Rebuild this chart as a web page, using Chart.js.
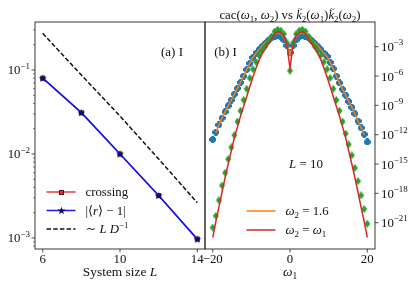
<!DOCTYPE html>
<html>
<head>
<meta charset="utf-8">
<script src="https://cdn.jsdelivr.net/npm/chart.js@4"></script>
<style>
  html, body { margin: 0; padding: 0; background: #fff; }
  #wrap { position: relative; width: 415px; height: 285px; }
  canvas { position: absolute; left: 0; top: 0; }
</style>
</head>
<body>
<div id="wrap">
  <canvas id="left" width="415" height="285"></canvas>
  <canvas id="right" width="415" height="285"></canvas>
</div>
<script>
// panel (a): finite size scaling
const sizes = [6, 8, 10, 12, 14];
const crossing = [0.080, 0.031, 0.0100, 0.0032, 0.00097];
const rGap = [0.080, 0.031, 0.0100, 0.0032, 0.00097];
const guide = [0.273, 0.087, 0.0283, 0.0087, 0.00263];
const sizeTicks = [6, 10, 14];
const gapTicks = [1e-3, 1e-2, 1e-1];

// panel (b): L = 10
const omega = [-20, -19.2, -18.4, -17.6, -16.8, -16, -15.2, -14.4, -13.6, -12.8, -12, -11.2, -10.4,
  -9.6, -8.8, -8, -7.2, -6.4, -5.6, -4.8, -4, -3.2, -2.4, -1.6, -0.8, 0, 0.8, 1.6, 2.4, 3.2, 4, 4.8,
  5.6, 6.4, 7.2, 8, 8.8, 9.6, 10.4, 11.2, 12, 12.8, 13.6, 14.4, 15.2, 16, 16.8, 17.6, 18.4, 19.2, 20];
const cacFixed = [3.2e-13, 1.8e-12, 1.0e-11, 5.0e-11, 2.2e-10, 8.9e-10, 3.5e-9, 1.4e-8, 5.6e-8, 2.2e-7,
  1.0e-6, 4.5e-6, 2.0e-5, 7.9e-5, 2.2e-4, 5.0e-4, 1.1e-3, 2.2e-3, 4.5e-3, 7.9e-3, 1.0e-2, 1.3e-2,
  1.0e-2, 5.0e-3, 1.3e-3, 2.5e-4, 1.3e-3, 5.0e-3, 1.0e-2, 1.3e-2, 1.0e-2, 7.9e-3, 4.5e-3, 2.2e-3,
  1.1e-3, 5.0e-4, 2.2e-4, 1.0e-4, 2.5e-5, 5.6e-6, 1.0e-6, 2.0e-7, 4.5e-8, 1.1e-8, 2.5e-9, 6.3e-10,
  1.4e-10, 2.5e-11, 5.0e-12, 1.1e-12, 1.8e-13];
const prodFixed = [null, 1.6e-12, 1.0e-11, 5.0e-11, 2.2e-10, 8.9e-10, 3.5e-9, 1.4e-8, 5.6e-8, 2.2e-7,
  1.0e-6, 4.5e-6, 2.0e-5, 7.9e-5, 2.2e-4, 5.0e-4, 1.3e-3, 2.8e-3, 5.6e-3, 1.1e-2, 1.8e-2, 2.5e-2,
  2.0e-2, 8.9e-3, 1.8e-3, 1.6e-4, 1.8e-3, 8.9e-3, 2.0e-2, 2.5e-2, 1.8e-2, 1.1e-2, 5.6e-3, 2.8e-3,
  1.3e-3, 5.0e-4, 2.2e-4, 1.0e-4, 2.5e-5, 5.6e-6, 1.0e-6, 2.0e-7, 4.5e-8, 1.1e-8, 2.5e-9, 6.3e-10,
  1.4e-10, 2.5e-11, 5.0e-12, 1.0e-12, null];
const cacDiag = [3.2e-22, 5.0e-21, 2.0e-19, 6.3e-18, 1.3e-16, 3.2e-15, 5.0e-14, 8.9e-13, 2.2e-11, 2.8e-10,
  3.5e-9, 5.0e-8, 6.3e-7, 5.0e-6, 2.8e-5, 1.3e-4, 4.0e-4, 1.1e-3, 3.5e-3, 1.1e-2, 3.5e-2, 5.6e-2,
  4.5e-2, 2.0e-2, 2.5e-3, 3.5e-6, 2.5e-3, 2.0e-2, 4.5e-2, 5.6e-2, 3.5e-2, 1.1e-2, 3.5e-3, 1.1e-3,
  4.0e-4, 1.3e-4, 2.8e-5, 5.0e-6, 6.3e-7, 5.0e-8, 3.5e-9, 2.8e-10, 2.2e-11, 1.3e-12, 1.0e-13, 7.9e-15,
  4.0e-16, 1.8e-17, 6.3e-19, 2.5e-20, 7.9e-22];
const prodDiag = [3.2e-23, 1.3e-21, 4.0e-20, 1.3e-18, 4.0e-17, 1.0e-15, 2.2e-14, 5.0e-13, 6.3e-12, 7.9e-11,
  7.9e-10, 7.9e-9, 7.9e-8, 7.9e-7, 6.3e-6, 4.5e-5, 2.2e-4, 6.3e-4, 2.0e-3, 6.3e-3, 2.0e-2, 3.5e-2,
  2.8e-2, 1.3e-2, 1.6e-3, 6.3e-6, 1.6e-3, 1.3e-2, 2.8e-2, 3.5e-2, 2.0e-2, 6.3e-3, 2.0e-3, 6.3e-4,
  2.2e-4, 4.5e-5, 6.3e-6, 7.9e-7, 7.9e-8, 7.9e-9, 7.9e-10, 7.9e-11, 6.3e-12, 5.0e-13, 2.2e-14, 1.0e-15,
  4.0e-17, 1.3e-18, 4.0e-20, 1.3e-21, 3.2e-23];
const omegaTicks = [-20, 0, 20];
const cacTicks = [1e-3, 1e-6, 1e-9, 1e-12, 1e-15, 1e-18, 1e-21];

const SERIF = '"Liberation Serif", "DejaVu Serif", serif';
const INK = '#111';

const pts = (xs, ys) => xs.map((x, i) => ({x: x, y: ys[i]})).filter(p => p.y != null);

function marker(w, h, draw) {
  const c = document.createElement('canvas');
  c.width = w; c.height = h;
  draw(c.getContext('2d'), w, h);
  return c;
}
const squareMark = marker(7, 7, (g) => {
  g.fillStyle = '#d63030'; g.strokeStyle = '#5a1010'; g.lineWidth = 1;
  g.fillRect(1, 1, 5, 5); g.strokeRect(1.5, 1.5, 4, 4);
});
const starMark = marker(9, 9, (g, w, h) => {
  g.beginPath();
  for (let i = 0; i < 10; i++) {
    const r = i % 2 ? 1.7 : 4.2;
    const a = -Math.PI / 2 + i * Math.PI / 5;
    g.lineTo(w / 2 + r * Math.cos(a), h / 2 + 0.4 + r * Math.sin(a));
  }
  g.closePath(); g.fillStyle = '#0b0b66'; g.fill();
});
const plusMark = marker(7, 7, (g) => {
  g.fillStyle = '#1f77b4';
  g.fillRect(2, 0, 3, 7); g.fillRect(0, 2, 7, 3);
  g.fillRect(1, 1, 5, 5);
});
const diamondMark = marker(7, 8, (g) => {
  g.fillStyle = '#2ca02c';
  g.beginPath(); g.moveTo(3.5, 0); g.lineTo(6.5, 4); g.lineTo(3.5, 8); g.lineTo(0.5, 4); g.closePath(); g.fill();
});

// parts: [text, kind] with kind r (roman), i (italic), b (subscript), p (superscript), t (italic with tilde)
function drawRich(ctx, parts, x, y, size, align) {
  const items = parts.map(([t, k]) => {
    const s = (k === 'b' || k === 'p') ? size * 0.7 : size;
    const font = ((k === 'i' || k === 't') ? 'italic ' : '') + s + 'px ' + SERIF;
    ctx.font = font;
    return {t: t, k: k, font: font, w: ctx.measureText(t).width};
  });
  const total = items.reduce((a, b) => a + b.w, 0);
  let cx = align === 'center' ? x - total / 2 : align === 'right' ? x - total : x;
  ctx.textAlign = 'left';
  ctx.textBaseline = 'alphabetic';
  ctx.fillStyle = INK;
  for (const it of items) {
    ctx.font = it.font;
    const dy = it.k === 'b' ? size * 0.22 : it.k === 'p' ? -size * 0.45 : 0;
    ctx.fillText(it.t, cx, y + dy);
    if (it.k === 't') {
      ctx.font = (size * 0.7) + 'px ' + SERIF;
      const tw = ctx.measureText('~').width;
      ctx.fillText('~', cx + (it.w - tw) / 2 + 1.2, y - size * 0.58);
    }
    cx += it.w;
  }
  return total;
}

const pow10 = v => {
  const e = Math.round(Math.log10(v));
  return [['10', 'r'], [(e < 0 ? '\u2212' : '') + Math.abs(e), 'p']];
};
const num = v => [[(v < 0 ? '\u2212' : '') + Math.abs(v), 'r']];

function line(ctx, x1, y1, x2, y2, w) {
  ctx.lineWidth = w;
  ctx.beginPath(); ctx.moveTo(x1, y1); ctx.lineTo(x2, y2); ctx.stroke();
}

function frame(ctx, a) {
  ctx.strokeStyle = '#222';
  ctx.lineWidth = 0.9;
  ctx.strokeRect(a.left, a.top, a.right - a.left, a.bottom - a.top);
}

function legendRow(ctx, x, y, color, width, dash, mark, parts) {
  ctx.save();
  ctx.strokeStyle = color;
  ctx.setLineDash(dash);
  line(ctx, x, y, x + 29, y, width);
  ctx.restore();
  if (mark) ctx.drawImage(mark, Math.round(x + 14.5 - mark.width / 2), Math.round(y - mark.height / 2));
  drawRich(ctx, parts, x + 39, y + 4.3, 12.8, 'left');
}

const blankAxis = (fitFn) => ({
  ticks: {display: false},
  grid: {display: false, drawTicks: false},
  border: {display: false},
  afterFit: fitFn
});

const TICK_FONT = 12.8;

const leftDecor = {
  id: 'leftDecor',
  afterDraw(chart) {
    const {ctx, chartArea: a, scales} = chart;
    ctx.save();
    frame(ctx, a);
    ctx.strokeStyle = '#222';
    for (const v of sizeTicks) {
      const px = scales.x.getPixelForValue(v);
      line(ctx, px, a.bottom, px, a.bottom + 3.5, 0.8);
      drawRich(ctx, num(v), px, a.bottom + 14, TICK_FONT, 'center');
    }
    for (let e = -4; e <= -1; e++) {
      for (let m = 1; m <= 9; m++) {
        const v = m * Math.pow(10, e);
        if (v < scales.y.min || v > scales.y.max) continue;
        const py = scales.y.getPixelForValue(v);
        line(ctx, a.left, py, a.left - (m === 1 ? 3.5 : 2), py, m === 1 ? 0.8 : 0.6);
      }
    }
    for (const v of gapTicks) {
      const py = scales.y.getPixelForValue(v);
      drawRich(ctx, pow10(v), a.left - 5, py + 4.5, TICK_FONT, 'right');
    }
    drawRich(ctx, [['System size ', 'r'], ['L', 'i']], (a.left + a.right) / 2, 276, 13.4, 'center');
    drawRich(ctx, [['(a) I', 'r']], 172, 56, 13, 'center');
    legendRow(ctx, 46.5, 192, '#e03a3a', 1.5, [], squareMark, [['crossing', 'r']]);
    legendRow(ctx, 46.5, 210.5, '#1a1aee', 1.5, [], starMark, [['|\u27e8', 'r'], ['r', 'i'], ['\u27e9 \u2212 1|', 'r']]);
    legendRow(ctx, 46.5, 229, '#111', 1.5, [4.5, 2.2], null, [['\u223c ', 'r'], ['L', 'i'], [' ', 'r'], ['D', 'i'], ['\u22121', 'p']]);
    ctx.restore();
  }
};

const rightDecor = {
  id: 'rightDecor',
  afterDraw(chart) {
    const {ctx, chartArea: a, scales} = chart;
    ctx.save();
    frame(ctx, a);
    ctx.strokeStyle = '#222';
    for (const v of omegaTicks) {
      const px = scales.x.getPixelForValue(v);
      line(ctx, px, a.bottom, px, a.bottom + 3.5, 0.8);
      drawRich(ctx, num(v), px, a.bottom + 14, TICK_FONT, 'center');
    }
    for (const v of cacTicks) {
      const py = scales.y.getPixelForValue(v);
      line(ctx, a.right, py, a.right + 3.5, py, 0.8);
      drawRich(ctx, pow10(v), a.right + 6, py + 4.5, TICK_FONT, 'left');
    }
    drawRich(ctx, [['\u03c9', 'i'], ['1', 'b']], (a.left + a.right) / 2, 276, 13.4, 'center');
    drawRich(ctx, [['cac(', 'r'], ['\u03c9', 'i'], ['1', 'b'], [', ', 'r'], ['\u03c9', 'i'], ['2', 'b'],
      [') vs ', 'r'], ['k', 't'], ['2', 'b'], ['(', 'r'], ['\u03c9', 'i'], ['1', 'b'], [')', 'r'],
      ['k', 't'], ['2', 'b'], ['(', 'r'], ['\u03c9', 'i'], ['2', 'b'], [')', 'r']],
      (a.left + a.right) / 2, 19, 12.8, 'center');
    drawRich(ctx, [['(b) I', 'r']], 225.5, 56, 13, 'center');
    drawRich(ctx, [['L', 'i'], [' = 10', 'r']], 306, 168, 13, 'center');
    legendRow(ctx, 246.5, 211, '#ff7f0e', 1.5, [], null, [['\u03c9', 'i'], ['2', 'b'], [' = 1.6', 'r']]);
    legendRow(ctx, 246.5, 230, '#d62728', 1.5, [], null, [['\u03c9', 'i'], ['2', 'b'], [' = ', 'r'], ['\u03c9', 'i'], ['1', 'b']]);
    ctx.restore();
  }
};

const common = {
  responsive: false,
  animation: false,
  devicePixelRatio: 1,
  plugins: {legend: {display: false}, tooltip: {enabled: false}}
};

new Chart(document.getElementById('left'), {
  type: 'line',
  data: {
    datasets: [{
      data: pts(sizes, rGap),
      borderColor: '#1010f0', borderWidth: 1.7,
      pointStyle: starMark, pointRadius: 3, order: 0
    }, {
      data: pts(sizes, crossing),
      borderColor: '#e03a3a', borderWidth: 1.1,
      pointStyle: squareMark, pointRadius: 3, order: 1
    }, {
      data: pts(sizes, guide),
      borderColor: '#111', borderWidth: 1.5, borderDash: [4.5, 2.2],
      pointRadius: 0, order: 2
    }]
  },
  options: Object.assign({}, common, {
    layout: {padding: {left: 0, top: 22, right: 210, bottom: 0}},
    scales: {
      x: Object.assign({type: 'linear', min: 5.6, max: 14.4}, blankAxis(s => { s.height = 36; })),
      y: Object.assign({type: 'logarithmic', min: 7.39e-4, max: 0.3727}, blankAxis(s => { s.width = 35; }))
    }
  }),
  plugins: [leftDecor]
});

new Chart(document.getElementById('right'), {
  type: 'line',
  data: {
    datasets: [{
      data: pts(omega, prodDiag),
      borderColor: '#d62728', borderWidth: 1.5, pointRadius: 0, order: 0
    }, {
      data: pts(omega, cacDiag),
      showLine: false, pointStyle: diamondMark, pointRadius: 3, order: 1
    }, {
      data: pts(omega, prodFixed),
      borderColor: '#ff7f0e', borderWidth: 1.5, pointRadius: 0, order: 2
    }, {
      data: pts(omega, cacFixed),
      showLine: false, pointStyle: plusMark, pointRadius: 3, order: 3
    }]
  },
  options: Object.assign({}, common, {
    layout: {padding: {left: 205, top: 22, right: 0, bottom: 0}},
    scales: {
      x: Object.assign({type: 'linear', min: -22, max: 22}, blankAxis(s => { s.height = 36; })),
      y: Object.assign({type: 'logarithmic', position: 'right', min: 2.04e-24, max: 0.336}, blankAxis(s => { s.width = 40; }))
    }
  }),
  plugins: [rightDecor]
});
</script>
</body>
</html>
